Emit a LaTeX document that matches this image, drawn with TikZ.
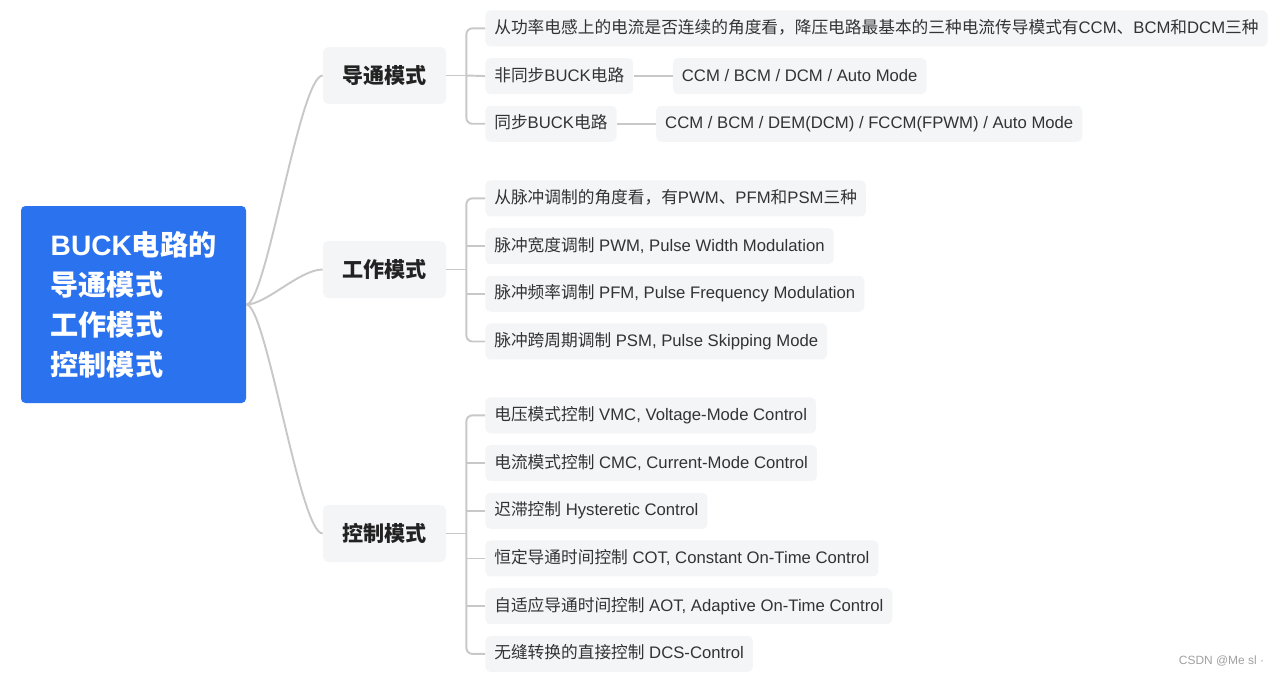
\documentclass[tikz,border=0pt]{standalone}
\usepackage{fontspec}
\setmainfont{Liberation Sans}
\newfontfamily\cjk{Noto Sans CJK SC}
\usetikzlibrary{positioning}
\definecolor{rootblue}{HTML}{2B72EF}
\definecolor{boxbg}{HTML}{F4F5F7}
\definecolor{leaftext}{HTML}{333333}
\definecolor{midtext}{HTML}{222222}
\definecolor{linkgray}{HTML}{C8C8C8}
\definecolor{marktext}{HTML}{A0A0A0}
% Han characters in Noto Sans CJK SC, the rest in Liberation Sans
\XeTeXinterchartokenstate=1
\newXeTeXintercharclass\hanclass
\newcount\hancode
\hancode="3000
\loop
  \XeTeXcharclass\hancode=\hanclass
  \advance\hancode by 1
\ifnum\hancode<"A000 \repeat
\hancode="FF00
\loop
  \XeTeXcharclass\hancode=\hanclass
  \advance\hancode by 1
\ifnum\hancode<"FFF0 \repeat
\XeTeXinterchartoks 0 \hanclass={\cjk}
\XeTeXinterchartoks 4095 \hanclass={\cjk}
\XeTeXinterchartoks \hanclass 0={\rmfamily}
\XeTeXinterchartoks \hanclass 4095={\rmfamily}

\begin{document}
\begin{tikzpicture}[
  rootbox/.style={rectangle, fill=rootblue, text=white, rounded corners=2.5pt,
    minimum width=4.5cm, minimum height=3.94cm, align=left,
    font=\fontsize{16}{22.7}\selectfont\bfseries},
  midbox/.style={rectangle, fill=boxbg, text=midtext, rounded corners=3pt,
    minimum width=2.46cm, minimum height=1.14cm,
    font=\fontsize{12}{14}\selectfont\bfseries},
  leaf/.style={rectangle, fill=boxbg, text=leaftext, rounded corners=2.8pt,
    inner xsep=0.18cm, inner ysep=0pt, minimum height=0.72cm,
    text height=0.26cm, text depth=0.06cm, font=\fontsize{9.5}{11}\selectfont},
  link/.style={draw=linkgray, line width=1.1pt},
  spine/.style={link, rounded corners=3.4pt},
]
\useasboundingbox (0,0) rectangle (25.6,-13.5);
\node[rootbox] (root) at (2.67,-6.09) {BUCK电路的\\导通模式\\工作模式\\控制模式};
\node[midbox] (cond) at (7.69,-1.51) {导通模式};
\node[midbox] (work) at (7.69,-5.39) {工作模式};
\node[midbox] (ctrl) at (7.69,-10.67) {控制模式};
% conduction modes
\node[leaf, anchor=north west] (cond1) at (9.7,-0.2) {从功率电感上的电流是否连续的角度看，降压电路最基本的三种电流传导模式有CCM、BCM和DCM三种};
\node[leaf, below right=0.22cm and 0cm of cond1.south west] (cond2) {非同步BUCK电路};
\node[leaf, below right=0.22cm and 0cm of cond2.south west] (cond3) {同步BUCK电路};
\node[leaf, right=0.78cm of cond2] (cond2r) {CCM / BCM / DCM / Auto Mode};
\node[leaf, right=0.78cm of cond3] (cond3r) {CCM / BCM / DEM(DCM) / FCCM(FPWM) / Auto Mode};
% working modes
\node[leaf, anchor=north west] (work1) at (9.7,-3.6) {从脉冲调制的角度看，有PWM、PFM和PSM三种};
\node[leaf, below right=0.22cm and 0cm of work1.south west] (work2) {脉冲宽度调制 PWM, Pulse Width Modulation};
\node[leaf, below right=0.22cm and 0cm of work2.south west] (work3) {脉冲频率调制 PFM, Pulse Frequency Modulation};
\node[leaf, below right=0.22cm and 0cm of work3.south west] (work4) {脉冲跨周期调制 PSM, Pulse Skipping Mode};
% control modes
\node[leaf, anchor=north west] (ctrl1) at (9.7,-7.94) {电压模式控制 VMC, Voltage-Mode Control};
\node[leaf, below right=0.22cm and 0cm of ctrl1.south west] (ctrl2) {电流模式控制 CMC, Current-Mode Control};
\node[leaf, below right=0.22cm and 0cm of ctrl2.south west] (ctrl3) {迟滞控制 Hysteretic Control};
\node[leaf, below right=0.22cm and 0cm of ctrl3.south west] (ctrl4) {恒定导通时间控制 COT, Constant On-Time Control};
\node[leaf, below right=0.22cm and 0cm of ctrl4.south west] (ctrl5) {自适应导通时间控制 AOT, Adaptive On-Time Control};
\node[leaf, below right=0.22cm and 0cm of ctrl5.south west] (ctrl6) {无缝转换的直接控制 DCS-Control};
\node[text=marktext, font=\fontsize{6.8}{8}\selectfont] (mark) at (24.43,-13.22) {CSDN @Me sl ·};
\draw[link] (root.east) .. controls +(0.4,0) and +(-0.46,0) .. (cond.west);
\draw[link] (root.east) .. controls +(0.4,0) and +(-0.46,0) .. (work.west);
\draw[link] (root.east) .. controls +(0.4,0) and +(-0.46,0) .. (ctrl.west);
\draw[link] (cond.east) -- ++(0.4,0) coordinate (condfork);
\draw[spine] (cond1.west) -| (condfork) |- (cond3.west);
\draw[link] (cond2.west) -- (condfork);
\draw[link] (cond2) -- (cond2r);
\draw[link] (cond3) -- (cond3r);
\draw[link] (work.east) -- ++(0.4,0) coordinate (workfork);
\draw[spine] (work1.west) -| (workfork) |- (work4.west);
\draw[link] (work2.west) -- (work2.west -| workfork);
\draw[link] (work3.west) -- (work3.west -| workfork);
\draw[link] (ctrl.east) -- ++(0.4,0) coordinate (ctrlfork);
\draw[spine] (ctrl1.west) -| (ctrlfork) |- (ctrl6.west);
\draw[link] (ctrl2.west) -- (ctrl2.west -| ctrlfork);
\draw[link] (ctrl3.west) -- (ctrl3.west -| ctrlfork);
\draw[link] (ctrl4.west) -- (ctrl4.west -| ctrlfork);
\draw[link] (ctrl5.west) -- (ctrl5.west -| ctrlfork);
\end{tikzpicture}
\end{document}
